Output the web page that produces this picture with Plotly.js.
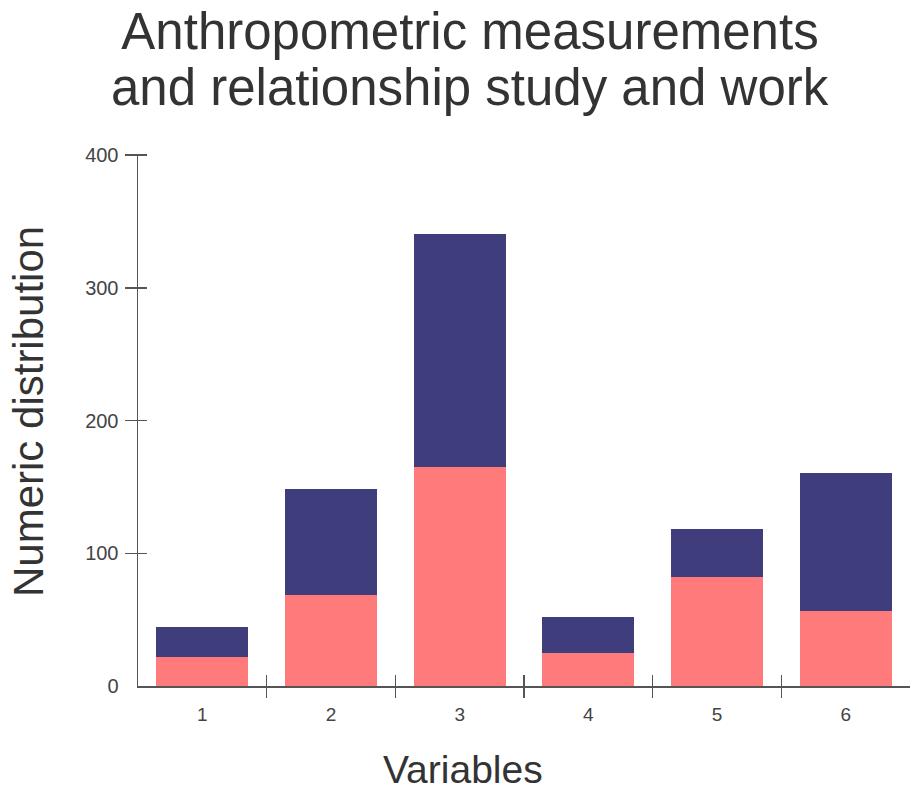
<!DOCTYPE html>
<html>
<head>
<meta charset="utf-8">
<script src="https://cdn.plot.ly/plotly-3.0.1.min.js"></script>
<style>html,body{margin:0;padding:0;background:#fff;overflow:hidden}#chart{width:910px;height:790px}</style>
</head>
<body>
<div id="chart"></div>
<script>
const categories = ["1", "2", "3", "4", "5", "6"];
const seriesLower = [22.1, 68.8, 165.2, 24.9, 82.3, 56.7];
const seriesUpper = [22.6, 79.6, 175.3, 27.1, 36.2, 104.0];
const yTickVals = [0, 100, 200, 300, 400];
const yTickText = ["0", "100", "200", "300", "400"];
const yMarkVals = [100, 200, 300, 400];
const xBoundaryVals = [0.5, 1.5, 2.5, 3.5, 4.5];

const FONT = "Liberation Sans, Arial, sans-serif";
const axisCol = "#555";
const PLOT_W = 772, PLOT_H = 531;

const traces = [
  {type: "bar", x: categories, y: seriesLower, name: "Series 1",
   marker: {color: "#FF7B7B", line: {width: 0}}, hoverinfo: "x+y"},
  {type: "bar", x: categories, y: seriesUpper, name: "Series 2",
   marker: {color: "#3F3D7B", line: {width: 0}}, hoverinfo: "x+y"},
  // empty helper trace so the tick-only overlay axes are drawn
  {type: "scatter", x: [], y: [], xaxis: "x2", yaxis: "y2", hoverinfo: "skip", showlegend: false}
];

const layout = {
  width: 910, height: 790,
  paper_bgcolor: "#fff", plot_bgcolor: "#fff",
  margin: {l: 138, r: 0, t: 155, b: 104},
  barmode: "stack", bargap: 0.285,
  showlegend: false,
  font: {family: FONT, color: "#444"},
  title: {text: "Anthropometric measurements", font: {family: FONT, size: 51, color: "#333"},
          x: 470/910, xanchor: "center", xref: "container",
          y: 1 - 31/790, yanchor: "middle", yref: "container"},
  xaxis: {type: "category", range: [-0.5, 5.5], showline: true, linecolor: axisCol, linewidth: 1.5,
          ticks: "outside", ticklen: 11, tickcolor: "rgba(0,0,0,0)",
          tickfont: {size: 19, color: "#444"}, showgrid: false, zeroline: false, fixedrange: true},
  xaxis2: {overlaying: "x", type: "linear", range: [-0.5, 5.5], tickmode: "array", tickvals: xBoundaryVals,
           anchor: "free", position: 12/PLOT_H, side: "bottom",
           ticks: "outside", ticklen: 23, tickwidth: 1.5, tickcolor: axisCol,
           showticklabels: false, showgrid: false, zeroline: false, showline: false, fixedrange: true},
  yaxis: {range: [0, 400], tickmode: "array", tickvals: yTickVals, ticktext: yTickText,
          showline: true, linecolor: axisCol, linewidth: 1.5,
          ticks: "outside", ticklen: 14, tickcolor: "rgba(0,0,0,0)",
          tickfont: {size: 20, color: "#444"}, showgrid: false, zeroline: false, fixedrange: true},
  yaxis2: {overlaying: "y", range: [0, 400], tickmode: "array", tickvals: yMarkVals,
           anchor: "free", position: 9/PLOT_W, side: "left",
           ticks: "outside", ticklen: 22, tickwidth: 1.5, tickcolor: axisCol,
           showticklabels: false, showgrid: false, zeroline: false, showline: false, fixedrange: true},
  annotations: [
    {text: "and relationship study and work", xref: "paper", yref: "paper",
     x: (470-138)/PLOT_W, y: (686-87)/PLOT_H, xanchor: "center", yanchor: "middle", showarrow: false,
     font: {family: FONT, size: 51, color: "#333"}},
    {text: "Variables", xref: "paper", yref: "paper",
     x: (463-138)/PLOT_W, y: (686-769)/PLOT_H, xanchor: "center", yanchor: "middle", showarrow: false,
     font: {family: FONT, size: 39, color: "#333"}},
    {text: "Numeric distribution", xref: "paper", yref: "paper", textangle: -90,
     x: (28-138)/PLOT_W, y: (686-412)/PLOT_H, xanchor: "center", yanchor: "middle", showarrow: false,
     font: {family: FONT, size: 42, color: "#333"}}
  ]
};

Plotly.newPlot("chart", traces, layout, {displayModeBar: false, staticPlot: true});
</script>
</body>
</html>
